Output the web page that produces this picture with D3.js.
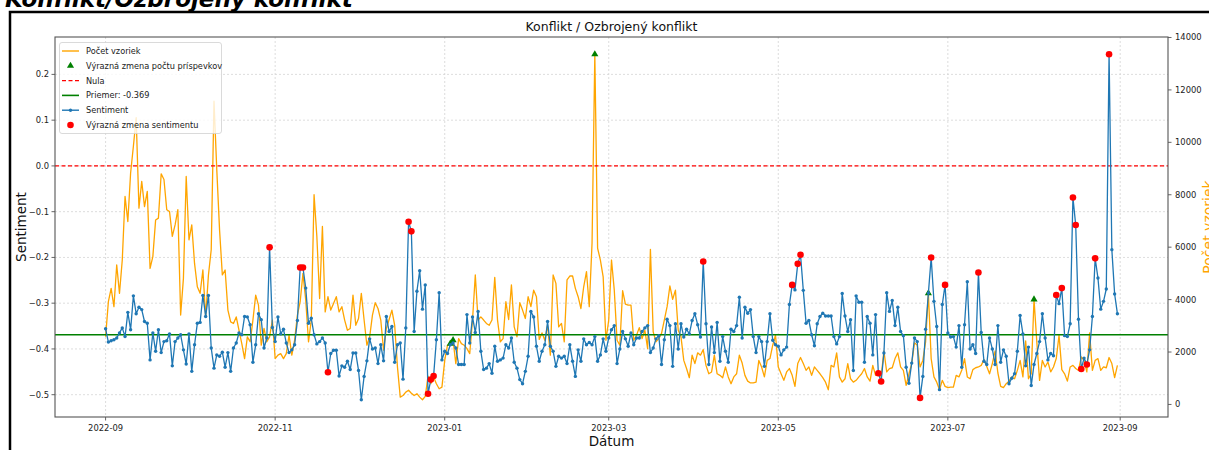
<!DOCTYPE html>
<html>
<head>
<meta charset="utf-8">
<script src="https://cdn.jsdelivr.net/npm/d3@7"></script>
<style>
  html, body { margin: 0; padding: 0; background: #ffffff; }
  svg { display: block; }
  text { font-family: "DejaVu Sans", sans-serif; }
</style>
</head>
<body>
<svg id="chart" width="1209" height="450"></svg>
<script>
// ---- data -------------------------------------------------------------
const startDate = "2022-09-01";   // first day of the daily series

const sentiment = [
  -0.356,-0.385,-0.382,-0.380,-0.376,-0.365,-0.354,-0.373,-0.320,-0.358,
  -0.284,-0.323,-0.309,-0.314,-0.340,-0.344,-0.424,-0.365,-0.405,-0.358,
  -0.408,-0.384,-0.382,-0.367,-0.437,-0.384,-0.376,-0.369,-0.402,-0.433,
  -0.367,-0.449,-0.391,-0.344,-0.342,-0.283,-0.329,-0.283,-0.398,-0.442,
  -0.413,-0.416,-0.407,-0.440,-0.408,-0.449,-0.398,-0.387,-0.365,-0.369,
  -0.329,-0.330,-0.347,-0.429,-0.391,-0.323,-0.336,-0.398,-0.376,-0.178,
  -0.353,-0.384,-0.330,-0.367,-0.357,-0.387,-0.408,-0.402,-0.391,-0.338,
  -0.222,-0.222,-0.267,-0.344,-0.333,-0.369,-0.389,-0.384,-0.376,-0.387,
  -0.451,-0.410,-0.403,-0.403,-0.459,-0.437,-0.440,-0.427,-0.445,-0.409,
  -0.409,-0.447,-0.511,-0.460,-0.426,-0.378,-0.400,-0.398,-0.432,-0.391,
  -0.426,-0.329,-0.362,-0.351,-0.429,-0.391,-0.387,-0.466,-0.354,-0.122,
  -0.143,-0.362,-0.274,-0.229,-0.313,-0.260,-0.498,-0.467,-0.459,-0.380,
  -0.277,-0.424,-0.405,-0.410,-0.391,-0.387,-0.398,-0.434,-0.434,-0.434,
  -0.325,-0.387,-0.330,-0.364,-0.318,-0.405,-0.445,-0.442,-0.432,-0.453,
  -0.394,-0.427,-0.424,-0.420,-0.391,-0.398,-0.376,-0.429,-0.442,-0.467,
  -0.476,-0.449,-0.416,-0.318,-0.330,-0.394,-0.427,-0.405,-0.391,-0.340,
  -0.394,-0.405,-0.438,-0.416,-0.420,-0.416,-0.432,-0.391,-0.427,-0.460,
  -0.402,-0.427,-0.378,-0.391,-0.386,-0.391,-0.373,-0.427,-0.413,-0.378,
  -0.405,-0.376,-0.358,-0.349,-0.432,-0.400,-0.362,-0.378,-0.394,-0.365,
  -0.391,-0.376,-0.376,-0.362,-0.354,-0.349,-0.408,-0.398,-0.378,-0.371,
  -0.434,-0.380,-0.335,-0.349,-0.438,-0.345,-0.400,-0.345,-0.374,-0.357,
  -0.367,-0.338,-0.323,-0.347,-0.374,-0.209,-0.345,-0.434,-0.352,-0.408,
  -0.342,-0.427,-0.373,-0.405,-0.429,-0.357,-0.362,-0.349,-0.287,-0.376,
  -0.309,-0.322,-0.314,-0.373,-0.408,-0.373,-0.384,-0.438,-0.384,-0.323,
  -0.381,-0.391,-0.394,-0.413,-0.402,-0.396,-0.303,-0.260,-0.271,-0.214,
  -0.194,-0.272,-0.344,-0.338,-0.369,-0.393,-0.345,-0.329,-0.322,-0.328,
  -0.328,-0.328,-0.373,-0.389,-0.373,-0.279,-0.328,-0.362,-0.336,-0.447,
  -0.284,-0.298,-0.298,-0.429,-0.329,-0.344,-0.413,-0.325,-0.453,-0.471,
  -0.409,-0.277,-0.318,-0.294,-0.349,-0.309,-0.362,-0.371,-0.440,-0.475,
  -0.431,-0.376,-0.384,-0.507,-0.460,-0.357,-0.278,-0.200,-0.296,-0.351,
  -0.489,-0.303,-0.260,-0.365,-0.374,-0.373,-0.396,-0.349,-0.440,-0.347,
  -0.253,-0.400,-0.391,-0.410,-0.233,-0.364,-0.427,-0.434,-0.376,-0.400,
  -0.434,-0.349,-0.429,-0.402,-0.416,-0.476,-0.464,-0.454,-0.405,-0.327,
  -0.367,-0.437,-0.396,-0.480,-0.434,-0.410,-0.384,-0.323,-0.376,-0.424,
  -0.410,-0.415,-0.282,-0.301,-0.267,-0.371,-0.373,-0.345,-0.069,-0.129,
  -0.335,-0.444,-0.420,-0.434,-0.402,-0.329,-0.202,-0.245,-0.313,-0.296,
  -0.269, 0.244,-0.183,-0.280,-0.323
];

const sampleCounts = [
  2580,3920,4430,3730,5320,4240,5510,7940,6980,8830,
  9850,10940,7490,8510,7550,8130,5190,5640,7040,7110,
  8800,8580,7430,7360,6410,6850,7430,3410,4810,8700,
  6280,6850,5380,4490,4240,5130,3340,4940,5900,11570,
  8960,6660,4940,5130,3600,3150,3090,3340,2830,2320,
  1750,2580,2390,3220,4170,3790,2260,2900,2390,2580,
  3220,1750,1880,1940,1750,1940,2640,1880,2450,3410,
  3920,5000,3980,2390,3220,8000,6410,4040,6790,3530,
  4110,3600,3850,4110,3530,3730,3220,2830,2900,4170,
  3020,3280,4240,3220,2260,2580,3410,3880,3660,3220,
  2070,2900,3240,3600,3020,1430,280,340,470,540,
  430,340,410,280,180,310,1080,790,1050,790,
  600,660,1680,2260,2320,2450,1560,2510,2320,2260,
  2130,1940,3220,4940,3220,3340,3220,3090,3020,3220,
  4850,3220,2390,2510,3920,3240,4560,2960,2580,3880,
  3600,3280,4110,3730,4360,4110,2480,2730,2450,3020,
  1880,4940,4620,2960,3090,2390,4750,4900,4900,4430,
  4110,3660,4490,5070,3730,6150,13360,5960,5510,4870,
  2450,3220,5510,4360,2450,2260,4340,3830,3790,3790,
  2450,2640,2930,2510,2830,2130,5920,2770,2390,2510,
  2710,3220,3730,4520,4010,4360,2830,2580,1680,1370,
  1020,1880,1560,1970,1880,2090,1490,1170,1240,1880,
  1170,1110,1020,1430,1050,790,1050,1170,1880,1580,
  1110,890,820,820,850,1680,1430,1050,1680,1750,
  2260,2640,1430,1170,920,1240,1370,1110,690,1560,
  1790,1560,1300,1430,1110,1430,1300,1170,1020,850,
  560,1490,1430,1970,1050,850,980,1560,980,850,
  920,1050,1170,1370,1050,890,1490,1110,1200,1050,
  2040,1240,1370,1400,1750,1970,1430,1300,730,1170,
  1560,2350,2260,1430,1680,2390,4240,1750,1050,850,
  560,920,690,640,660,660,1110,1050,1300,1750,
  1050,980,1330,1400,1430,1490,1710,1450,1170,1560,
  2040,1200,690,640,790,890,1050,980,1300,1680,
  1050,2420,980,1170,4010,2390,920,1680,1430,1620,
  1240,1430,1750,2640,1330,1170,890,1430,1490,1370,
  1300,1810,1680,1240,2730,1300,1680,1750,1300,1430,
  1400,1790,1560,1020,1490
];

// days flagged as a marked change in the number of posts
const countChangeDates = ["2023-01-03","2023-01-04","2023-02-24","2023-06-24","2023-08-01"];

// days flagged as a marked change in sentiment
const sentimentChangeDates = [
  "2022-10-30","2022-11-10","2022-11-11","2022-11-20","2022-12-19","2022-12-20",
  "2022-12-26","2022-12-27","2022-12-28","2023-04-04","2023-05-06","2023-05-08",
  "2023-05-09","2023-06-06","2023-06-07","2023-06-21","2023-06-25","2023-06-30",
  "2023-07-12","2023-08-09","2023-08-11","2023-08-15","2023-08-16","2023-08-18",
  "2023-08-20","2023-08-23","2023-08-28"
];

const meanSentiment = -0.369;
const zeroLevel = 0;

const xTickLabels = ["2022-09","2022-11","2023-01","2023-03","2023-05","2023-07","2023-09"];
const sentimentTicks = [0.2, 0.1, 0.0, -0.1, -0.2, -0.3, -0.4, -0.5];
const countTicks = [0, 2000, 4000, 6000, 8000, 10000, 12000, 14000];

const pageHeading = "Konflikt/Ozbrojený konflikt";
const chartTitle = "Konflikt / Ozbrojený konflikt";
const xAxisTitle = "Dátum";
const leftAxisTitle = "Sentiment";
const rightAxisTitle = "Počet vzoriek";
const legendLabels = [
  "Počet vzoriek",
  "Výrazná zmena počtu príspevkov",
  "Nula",
  "Priemer: -0.369",
  "Sentiment",
  "Výrazná zmena sentimentu"
];

// ---- layout -----------------------------------------------------------
const W = 1209, H = 450;
const plot = { left: 55, right: 1168, top: 37, bottom: 417 };

const COLORS = {
  count: "#ffa500",
  countMark: "#008000",
  zero: "#ff0000",
  mean: "#008000",
  sentiment: "#1f77b4",
  sentMark: "#ff0000",
  axis: "#555555",
  grid: "#d4d4d4",
  text: "#222222"
};

const parseDay = d3.timeParse("%Y-%m-%d");
const parseMonth = d3.timeParse("%Y-%m");
const fmtDay = d3.timeFormat("%Y-%m-%d");
const day0 = parseDay(startDate);

const series = sentiment.map((s, i) => ({
  date: d3.timeDay.offset(day0, i),
  sentiment: s,
  count: sampleCounts[i]
}));
const byDay = new Map(series.map(d => [fmtDay(d.date), d]));

// matplotlib-style 5% padding around the data extent
function padded(lo, hi) { const r = hi - lo; return [lo - 0.05 * r, hi + 0.05 * r]; }

const tFirst = series[0].date, tLast = series[series.length - 1].date;
const [t0, t1] = padded(+tFirst, +tLast);
const x = d3.scaleTime().domain([new Date(t0), new Date(t1)]).range([plot.left, plot.right]);

const ySent = d3.scaleLinear()
  .domain(padded(d3.min(sentiment), d3.max(sentiment)))
  .range([plot.bottom, plot.top]);
const yCount = d3.scaleLinear()
  .domain(padded(d3.min(sampleCounts), d3.max(sampleCounts)))
  .range([plot.bottom, plot.top]);

const svg = d3.select("#chart");
svg.append("rect").attr("width", W).attr("height", H).attr("fill", "#fff");

// page heading above the framed figure
svg.append("text")
  .attr("x", 5).attr("y", 7)
  .attr("font-family", "'Liberation Sans', Arial, sans-serif")
  .attr("font-weight", "bold").attr("font-style", "italic")
  .attr("font-size", 23).attr("fill", "#000")
  .text(pageHeading);

// frame around the figure
svg.append("path")
  .attr("d", `M10,${H + 5} L10,12 L${W + 5},12`)
  .attr("fill", "none").attr("stroke", "#000").attr("stroke-width", 2.5);

// ---- grid -------------------------------------------------------------
const grid = svg.append("g");
const xTickDates = xTickLabels.map(parseMonth);
grid.selectAll("line.v").data(xTickDates).join("line")
  .attr("x1", d => x(d)).attr("x2", d => x(d))
  .attr("y1", plot.top).attr("y2", plot.bottom)
  .attr("stroke", COLORS.grid).attr("stroke-width", 0.8).attr("stroke-dasharray", "2,2");
grid.selectAll("line.h").data(sentimentTicks).join("line")
  .attr("x1", plot.left).attr("x2", plot.right)
  .attr("y1", d => ySent(d)).attr("y2", d => ySent(d))
  .attr("stroke", COLORS.grid).attr("stroke-width", 0.8).attr("stroke-dasharray", "2,2");

// ---- marks ------------------------------------------------------------
svg.append("clipPath").attr("id", "plotClip").append("rect")
  .attr("x", plot.left).attr("y", plot.top)
  .attr("width", plot.right - plot.left).attr("height", plot.bottom - plot.top);
const marks = svg.append("g").attr("clip-path", "url(#plotClip)");

// number of samples (right axis)
marks.append("path").datum(series)
  .attr("fill", "none").attr("stroke", COLORS.count).attr("stroke-width", 1.3)
  .attr("stroke-linejoin", "round")
  .attr("d", d3.line().x(d => x(d.date)).y(d => yCount(d.count)));

const tri = d3.symbol().type(d3.symbolTriangle).size(22);
marks.selectAll("path.cm").data(countChangeDates.map(k => byDay.get(k))).join("path")
  .attr("transform", d => `translate(${x(d.date)},${yCount(d.count)})`)
  .attr("d", tri).attr("fill", COLORS.countMark);

// zero and mean reference lines
marks.append("line")
  .attr("x1", plot.left).attr("x2", plot.right)
  .attr("y1", ySent(zeroLevel)).attr("y2", ySent(zeroLevel))
  .attr("stroke", COLORS.zero).attr("stroke-width", 1.3).attr("stroke-dasharray", "4,2.5");
marks.append("line")
  .attr("x1", plot.left).attr("x2", plot.right)
  .attr("y1", ySent(meanSentiment)).attr("y2", ySent(meanSentiment))
  .attr("stroke", COLORS.mean).attr("stroke-width", 1.6);

// sentiment line with point markers
marks.append("path").datum(series)
  .attr("fill", "none").attr("stroke", COLORS.sentiment).attr("stroke-width", 1.3)
  .attr("stroke-linejoin", "round")
  .attr("d", d3.line().x(d => x(d.date)).y(d => ySent(d.sentiment)));
marks.selectAll("circle.sp").data(series).join("circle")
  .attr("cx", d => x(d.date)).attr("cy", d => ySent(d.sentiment))
  .attr("r", 1.7).attr("fill", COLORS.sentiment);

marks.selectAll("circle.sm").data(sentimentChangeDates.map(k => byDay.get(k))).join("circle")
  .attr("cx", d => x(d.date)).attr("cy", d => ySent(d.sentiment))
  .attr("r", 3.3).attr("fill", COLORS.sentMark);

// ---- axes -------------------------------------------------------------
const axes = svg.append("g");
axes.append("rect")
  .attr("x", plot.left).attr("y", plot.top)
  .attr("width", plot.right - plot.left).attr("height", plot.bottom - plot.top)
  .attr("fill", "none").attr("stroke", COLORS.axis).attr("stroke-width", 1.1);

const tickFont = 8.4;
// bottom
xTickDates.forEach((d, i) => {
  const px = x(d);
  axes.append("line").attr("x1", px).attr("x2", px)
    .attr("y1", plot.bottom).attr("y2", plot.bottom + 3.5)
    .attr("stroke", COLORS.axis).attr("stroke-width", 0.9);
  axes.append("text").attr("x", px).attr("y", plot.bottom + 13.5)
    .attr("text-anchor", "middle").attr("font-size", tickFont).attr("fill", COLORS.text)
    .text(xTickLabels[i]);
});
// left
sentimentTicks.forEach(v => {
  const py = ySent(v);
  axes.append("line").attr("x1", plot.left - 3.5).attr("x2", plot.left)
    .attr("y1", py).attr("y2", py).attr("stroke", COLORS.axis).attr("stroke-width", 0.9);
  axes.append("text").attr("x", plot.left - 6).attr("y", py + 3)
    .attr("text-anchor", "end").attr("font-size", tickFont).attr("fill", COLORS.text)
    .text(d3.format(".1f")(v).replace("-", "\u2212"));
});
// right
countTicks.forEach(v => {
  const py = yCount(v);
  axes.append("line").attr("x1", plot.right).attr("x2", plot.right + 3.5)
    .attr("y1", py).attr("y2", py).attr("stroke", COLORS.axis).attr("stroke-width", 0.9);
  axes.append("text").attr("x", plot.right + 7).attr("y", py + 3)
    .attr("text-anchor", "start").attr("font-size", tickFont).attr("fill", COLORS.text)
    .text(String(v));
});

// titles
const midX = (plot.left + plot.right) / 2, midY = (plot.top + plot.bottom) / 2;
svg.append("text").attr("x", midX).attr("y", 31)
  .attr("text-anchor", "middle").attr("font-size", 12.5).attr("fill", "#111")
  .text(chartTitle);
svg.append("text").attr("x", midX).attr("y", 446)
  .attr("text-anchor", "middle").attr("font-size", 13.5).attr("fill", "#111")
  .text(xAxisTitle);
svg.append("text").attr("transform", `translate(26,${midY}) rotate(-90)`)
  .attr("text-anchor", "middle").attr("font-size", 13.5).attr("fill", "#111")
  .text(leftAxisTitle);
svg.append("text").attr("transform", `translate(1213,${midY}) rotate(-90)`)
  .attr("text-anchor", "middle").attr("font-size", 14).attr("fill", COLORS.count)
  .text(rightAxisTitle);

// ---- legend -----------------------------------------------------------
const lg = svg.append("g");
const lgBox = { x: 59.5, y: 42.5, w: 162, h: 91 };
lg.append("rect").attr("x", lgBox.x).attr("y", lgBox.y)
  .attr("width", lgBox.w).attr("height", lgBox.h).attr("rx", 2.5)
  .attr("fill", "#fff").attr("fill-opacity", 0.8)
  .attr("stroke", "#d0d0d0").attr("stroke-width", 0.8);
const rowY = i => 51 + i * 14.8;
const hx0 = 62, hx1 = 79, hxm = 70.5;
legendLabels.forEach((t, i) => {
  const y = rowY(i);
  const row = lg.append("g");
  if (i === 0) {
    row.append("line").attr("x1", hx0).attr("x2", hx1).attr("y1", y).attr("y2", y)
      .attr("stroke", COLORS.count).attr("stroke-width", 1.4);
  } else if (i === 1) {
    row.append("path").attr("transform", `translate(${hxm},${y})`).attr("d", tri).attr("fill", COLORS.countMark);
  } else if (i === 2) {
    row.append("line").attr("x1", hx0).attr("x2", hx1).attr("y1", y).attr("y2", y)
      .attr("stroke", COLORS.zero).attr("stroke-width", 1.3).attr("stroke-dasharray", "4,2.5");
  } else if (i === 3) {
    row.append("line").attr("x1", hx0).attr("x2", hx1).attr("y1", y).attr("y2", y)
      .attr("stroke", COLORS.mean).attr("stroke-width", 1.6);
  } else if (i === 4) {
    row.append("line").attr("x1", hx0).attr("x2", hx1).attr("y1", y).attr("y2", y)
      .attr("stroke", COLORS.sentiment).attr("stroke-width", 1.4);
    row.append("circle").attr("cx", hxm).attr("cy", y).attr("r", 1.7).attr("fill", COLORS.sentiment);
  } else {
    row.append("circle").attr("cx", hxm).attr("cy", y).attr("r", 3.3).attr("fill", COLORS.sentMark);
  }
  row.append("text").attr("x", 86).attr("y", y + 3)
    .attr("font-size", 8.2).attr("fill", COLORS.text).text(t);
});
</script>
</body>
</html>
